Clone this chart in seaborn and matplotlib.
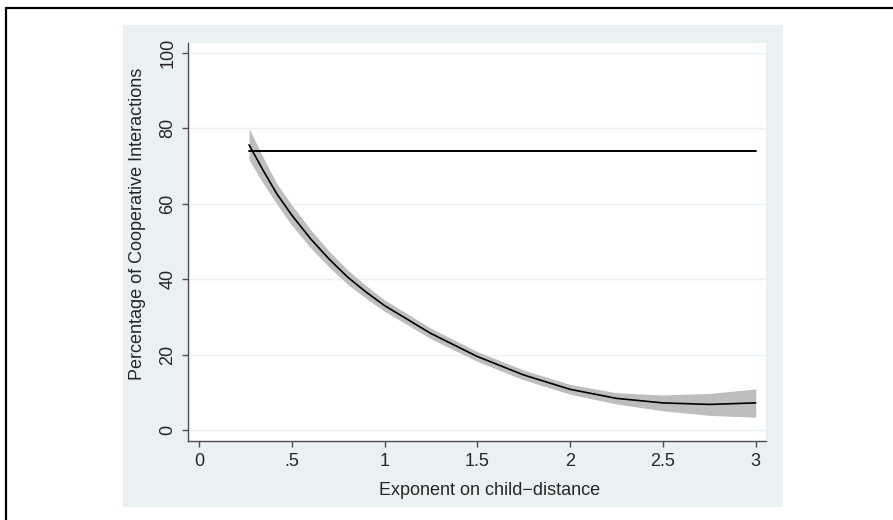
import pandas as pd
import seaborn as sns
import matplotlib.pyplot as plt
from matplotlib.lines import Line2D
from matplotlib.patches import Rectangle

# values
exponent = [0.27, 0.35, 0.42, 0.5, 0.6, 0.7, 0.8, 0.9, 1.0, 1.25, 1.5, 1.75, 2.0, 2.25, 2.5, 2.75, 3.0]
fitted = [75.6, 68.5, 62.6, 57.0, 50.8, 45.4, 40.6, 36.6, 33.0, 25.6, 19.5, 14.6, 10.8, 8.4, 7.2, 6.8, 7.2]
ci_low = [71.6, 65.1, 59.9, 54.3, 48.4, 43.3, 38.7, 34.9, 31.5, 24.2, 18.2, 13.3, 9.5, 6.9, 5.1, 3.9, 3.4]
ci_high = [80.0, 71.9, 65.3, 59.7, 53.2, 47.5, 42.5, 38.3, 34.5, 27.0, 20.8, 15.9, 12.1, 9.9, 9.3, 9.7, 10.9]
baseline_x = [0.27, 3.0]
baseline_y = [74.1, 74.1]

x_ticks = [0, 0.5, 1, 1.5, 2, 2.5, 3]
x_tick_labels = ["0", ".5", "1", "1.5", "2", "2.5", "3"]
y_ticks = [0, 20, 40, 60, 80, 100]

sns.set_style("white")
plt.rcParams['font.family'] = ['Liberation Sans', 'DejaVu Sans']

df = pd.DataFrame({"exponent": exponent, "fitted": fitted})
base = pd.DataFrame({"exponent": baseline_x, "pct": baseline_y})

fig = plt.figure(figsize=(8.93, 5.2), dpi=100)
# Stata-like graph region, behind the axes
fig.patches.append(Rectangle((0.1377, 0.025), 0.7396, 0.926, transform=fig.transFigure,
                             facecolor='#EAF1F3', edgecolor='none', zorder=-5))
# outer frame (top and left edges only visible)
fig.add_artist(Line2D([0.0067, 0.0067], [0.0, 0.9837], color='black', lw=1.6))
fig.add_artist(Line2D([0.0067, 1.0], [0.9837, 0.9837], color='black', lw=1.6))

ax = fig.add_axes([0.2105, 0.1519, 0.6478, 0.7654])
ax.set_facecolor('white')

ax.fill_between(exponent, ci_low, ci_high, color='#BEBEBE', lw=0, zorder=2)
sns.lineplot(data=df, x="exponent", y="fitted", color='black', lw=1.2, ax=ax, zorder=3)
sns.lineplot(data=base, x="exponent", y="pct", color='black', lw=1.4, ax=ax, zorder=3)

ax.set_xlim(-0.059, 3.058)
ax.set_ylim(-2.9, 102.6)
ax.set_xticks(x_ticks)
ax.set_xticklabels(x_tick_labels)
ax.set_yticks(y_ticks)
ax.yaxis.grid(True, color='#EAF2F3', lw=1)
ax.xaxis.grid(False)
ax.set_axisbelow(True)

for s in ['top', 'right']:
    ax.spines[s].set_visible(False)
for s in ['left', 'bottom']:
    ax.spines[s].set_color('#4D4D4D')
    ax.spines[s].set_linewidth(1)

ax.tick_params(axis='both', direction='out', length=4, width=1, color='#4D4D4D',
               labelsize=13, pad=4.5, bottom=True, left=True)
for lbl in ax.get_yticklabels():
    lbl.set_rotation(90)
    lbl.set_va('center')

ax.set_xlabel("Exponent on child\u2212distance", fontsize=13)
ax.set_ylabel("Percentage of Cooperative Interactions", fontsize=13)
ax.xaxis.set_label_coords(0.522, -0.103)
ax.yaxis.set_label_coords(-0.0726, 0.545)

fig.savefig("out.png", dpi=100)
